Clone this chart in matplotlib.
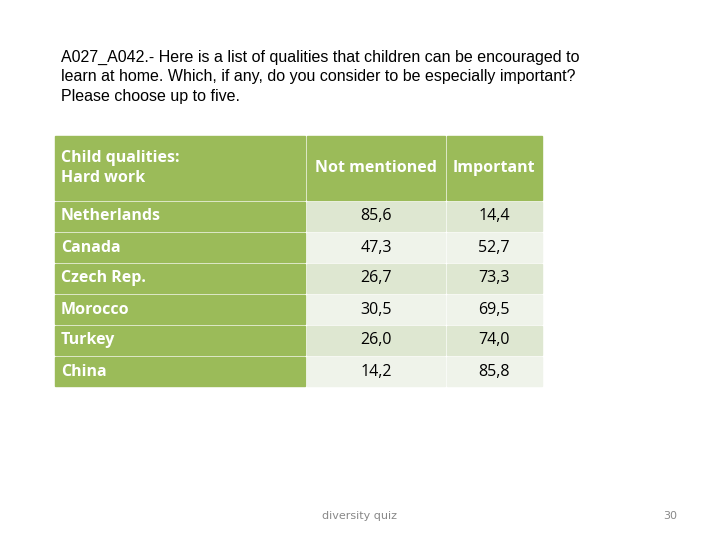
import matplotlib.pyplot as plt
from matplotlib.patches import Rectangle

countries = ['Netherlands', 'Canada', 'Czech Rep.', 'Morocco', 'Turkey', 'China']
not_mentioned = [85.6, 47.3, 26.7, 30.5, 26.0, 14.2]
important = [14.4, 52.7, 73.3, 69.5, 74.0, 85.8]
headers = ['Child qualities:\nHard work', 'Not mentioned', 'Important']

green = '#9BBB59'
light1 = '#DEE7D1'
light2 = '#EFF3EA'

fig = plt.figure(figsize=(7.2, 5.4), dpi=100)
ax = fig.add_axes([0, 0, 1, 1])
ax.set_xlim(0, 720)
ax.set_ylim(540, 0)
ax.axis('off')

title = ("A027_A042.- Here is a list of qualities that children can be encouraged to\n"
         "learn at home. Which, if any, do you consider to be especially important?\n"
         "Please choose up to five.")
ax.text(61, 50, title, fontsize=11.5, family='Liberation Sans', va='top', linespacing=1.35)

cols = [55, 306, 446, 542]
top, head_h, row_h, gap = 136, 64, 29, 2

ax.add_patch(Rectangle((cols[0], top), cols[1] - cols[0] - 1, head_h, color=green))
ax.add_patch(Rectangle((cols[1] + 1, top), cols[2] - cols[1] - 2, head_h, color=green))
ax.add_patch(Rectangle((cols[2] + 1, top), cols[3] - cols[2] - 1, head_h, color=green))
hf = dict(color='white', fontsize=11.5, fontweight='bold', family='Open Sans', va='center')
ax.text(61, top + head_h / 2, headers[0], ha='left', linespacing=1.3, **hf)
ax.text((cols[1] + cols[2]) / 2, top + head_h / 2, headers[1], ha='center', **hf)
ax.text((cols[2] + cols[3]) / 2, top + head_h / 2, headers[2], ha='center', **hf)

for i, (c, a, b) in enumerate(zip(countries, not_mentioned, important)):
    y = top + head_h + gap + i * (row_h + gap)
    fill = light1 if i % 2 == 0 else light2
    ax.add_patch(Rectangle((cols[0], y), cols[1] - cols[0] - 1, row_h, color=green))
    ax.add_patch(Rectangle((cols[1] + 1, y), cols[2] - cols[1] - 2, row_h, color=fill))
    ax.add_patch(Rectangle((cols[2] + 1, y), cols[3] - cols[2] - 1, row_h, color=fill))
    ax.text(61, y + row_h / 2, c, ha='left', **hf)
    for val, x0, x1 in [(a, cols[1], cols[2]), (b, cols[2], cols[3])]:
        ax.text((x0 + x1) / 2, y + row_h / 2, f'{val:.1f}'.replace('.', ','),
                ha='center', va='center', fontsize=11.5, family='Open Sans', color='black')

ax.text(360, 516, 'diversity quiz', ha='center', va='center', fontsize=8, color='#888888')
ax.text(670, 516, '30', ha='center', va='center', fontsize=8, color='#888888')

fig.savefig('out.png', dpi=100)
